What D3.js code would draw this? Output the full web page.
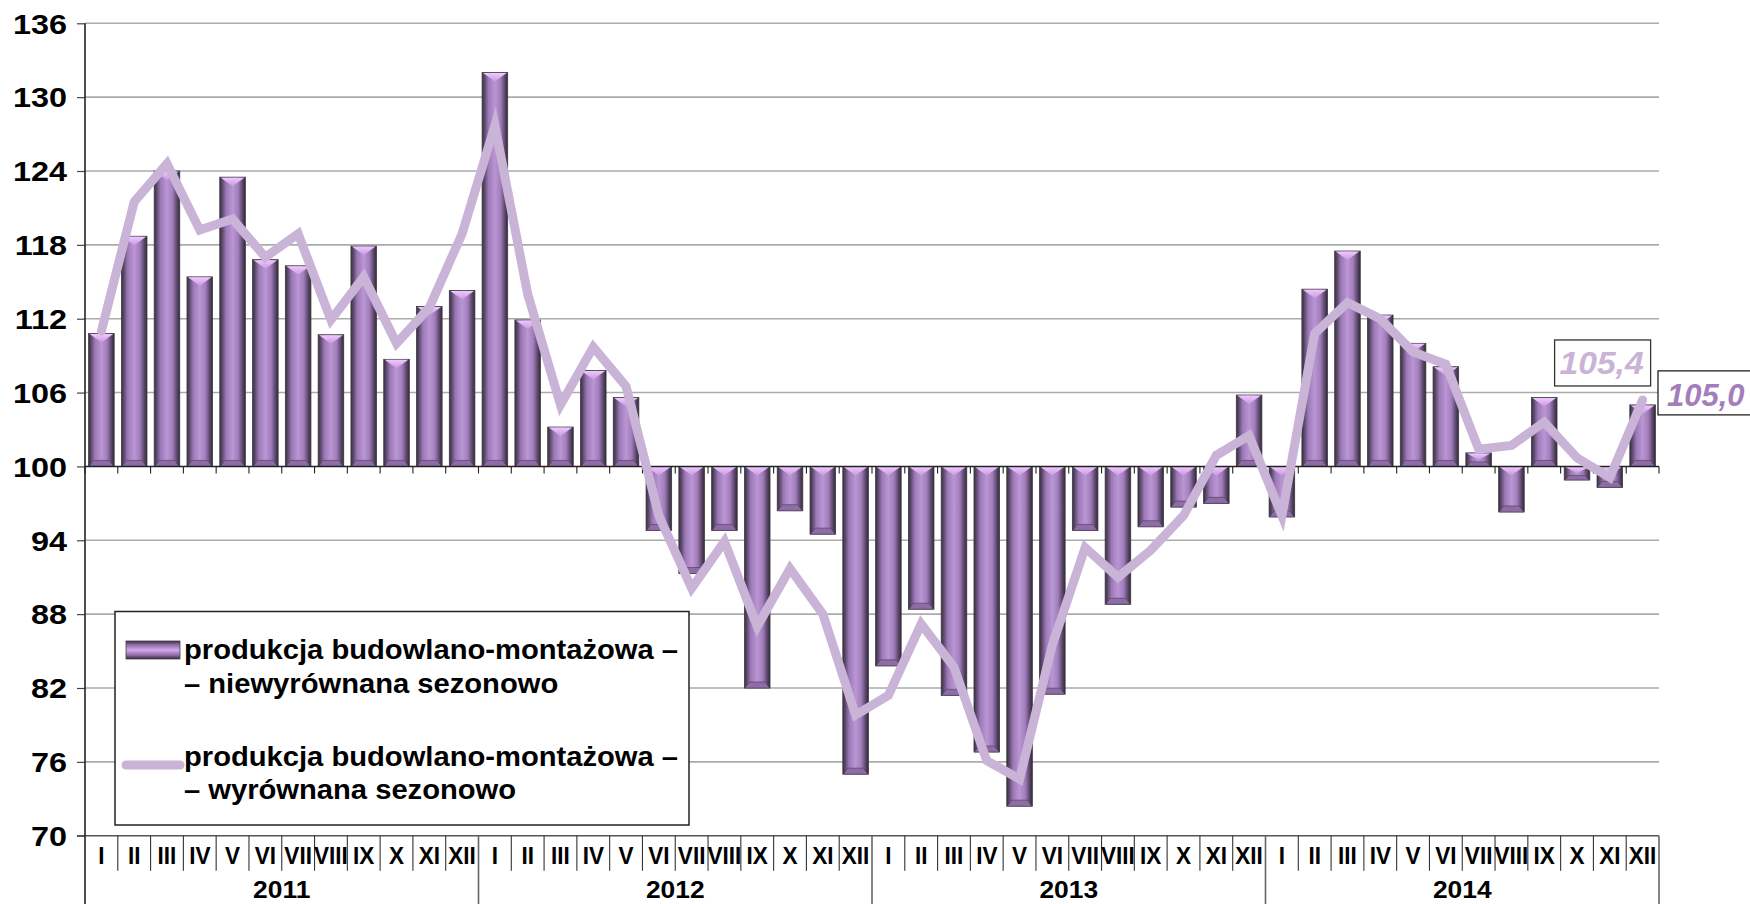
<!DOCTYPE html>
<html><head><meta charset="utf-8">
<script src="https://cdn.jsdelivr.net/npm/d3@7"></script>
<style>
body{margin:0;background:#fff}
svg{display:block}
text{font-family:"Liberation Sans",Arial,sans-serif;font-weight:bold}
</style>
</head><body>
<svg id="chart" width="1750" height="904"></svg>
<script>
// ---------------- DATA ----------------
const years = ["2011", "2012", "2013", "2014"];
const months = ["I","II","III","IV","V","VI","VII","VIII","IX","X","XI","XII"];
const yTicks = [70, 76, 82, 88, 94, 100, 106, 112, 118, 124, 130, 136];

// produkcja budowlano-montażowa – niewyrównana sezonowo (bars)
const unadjusted2011 = [110.8, 118.7, 124.0, 115.4, 123.5, 116.8, 116.3, 110.7, 117.9, 108.7, 113.0, 114.3];
const unadjusted2012 = [132.0, 111.9, 103.2, 107.8, 105.6, 94.8, 91.3, 94.8, 82.0, 96.4, 94.5, 75.0];
const unadjusted2013 = [83.8, 88.4, 81.4, 76.8, 72.4, 81.5, 94.8, 88.8, 95.1, 96.7, 97.0, 105.8];
const unadjusted2014 = [95.9, 114.4, 117.5, 112.3, 110.0, 108.1, 101.1, 96.3, 105.6, 98.9, 98.3, 105.0];

// produkcja budowlano-montażowa – wyrównana sezonowo (line)
const adjusted2011 = [111.0, 121.5, 124.6, 119.2, 120.1, 117.0, 118.9, 111.9, 115.4, 110.0, 112.9, 118.9];
const adjusted2012 = [127.7, 114.0, 105.0, 109.7, 106.5, 96.0, 90.1, 93.9, 87.0, 91.7, 88.0, 79.8];
const adjusted2013 = [81.4, 87.2, 83.7, 76.1, 74.6, 85.5, 93.4, 91.0, 93.2, 96.0, 100.9, 102.5];
const adjusted2014 = [96.0, 110.8, 113.3, 112.0, 109.3, 108.3, 101.4, 101.7, 103.6, 100.7, 99.1, 105.4];

const legendLabels = [
  ["produkcja budowlano-montażowa –", "– niewyrównana sezonowo"],
  ["produkcja budowlano-montażowa –", "– wyrównana sezonowo"]
];

// ---------------- BUILD ----------------
const unadjusted = [].concat(unadjusted2011, unadjusted2012, unadjusted2013, unadjusted2014);
const adjusted = [].concat(adjusted2011, adjusted2012, adjusted2013, adjusted2014);
const idx = d3.range(unadjusted.length);
const baseValue = 100;

const svg = d3.select("#chart");
const pLeft = 85, pRight = 1659, pTop = 23.3, pBottom = 835.7;

const x = d3.scaleBand().domain(idx).range([pLeft, pRight]).paddingInner(0.22).paddingOuter(0.11);
const y = d3.scaleLinear().domain([70, 136]).range([pBottom, pTop]);
const step = x.step(), bw = x.bandwidth();

const lineColor = "#c9b3d7";
const fmt = v => d3.format(".1f")(v).replace(".", ",");

// defs
const defs = svg.append("defs");
const g1 = defs.append("linearGradient").attr("id", "barG").attr("x1", 0).attr("x2", 1).attr("y1", 0).attr("y2", 0);
[[0, "#3a2d43"], [0.1, "#5e4a6e"], [0.25, "#9c7ab7"], [0.5, "#bb95d4"], [0.72, "#a17ebb"], [0.88, "#5f4a6f"], [1, "#33283b"]]
  .forEach(s => g1.append("stop").attr("offset", s[0]).attr("stop-color", s[1]));
const g2 = defs.append("linearGradient").attr("id", "bevG").attr("x1", 0).attr("x2", 0).attr("y1", 0).attr("y2", 1);
[[0, "#f0c8ff"], [1, "#c99ade"]].forEach(s => g2.append("stop").attr("offset", s[0]).attr("stop-color", s[1]));
const g3 = defs.append("linearGradient").attr("id", "legG").attr("x1", 0).attr("x2", 0).attr("y1", 0).attr("y2", 1);
[[0, "#3a2d43"], [0.2, "#8a6aa2"], [0.5, "#d3a8ea"], [0.8, "#8a6aa2"], [1, "#33283b"]]
  .forEach(s => g3.append("stop").attr("offset", s[0]).attr("stop-color", s[1]));

// gridlines
svg.append("g").selectAll("line").data(yTicks.filter(t => t !== 70 && t !== baseValue)).join("line")
  .attr("x1", pLeft).attr("x2", pRight).attr("y1", d => y(d)).attr("y2", d => y(d))
  .attr("stroke", "#ababab").attr("stroke-width", 1.6);

// y axis (ticks + labels)
const yAxis = svg.append("g").attr("transform", `translate(${pLeft},0)`)
  .call(d3.axisLeft(y).tickValues(yTicks).tickSize(8).tickPadding(0).tickFormat(d3.format("d")));
yAxis.select(".domain").remove();
yAxis.selectAll(".tick line").attr("stroke", "#444").attr("stroke-width", 1.2);
yAxis.selectAll(".tick text").attr("fill", "#000").attr("font-size", 27)
  .attr("x", 0).attr("dy", null).attr("text-anchor", "end")
  .attr("transform", "translate(-18,9.8) scale(1.2,1)");

// bars
const bars = svg.append("g").selectAll("g").data(idx).join("g");
bars.each(function (i) {
  const g = d3.select(this);
  const v = unadjusted[i];
  const x0 = x(i), x1 = x(i) + bw, xc = x(i) + bw / 2;
  const yt = y(Math.max(v, baseValue)), yb = y(Math.min(v, baseValue));
  const h = yb - yt;
  g.append("rect").attr("x", x0).attr("y", yt).attr("width", bw).attr("height", h)
    .attr("fill", "url(#barG)").attr("stroke", "#3b3b3b").attr("stroke-width", 0.8);
  const bev = Math.min(9, h / 2);
  g.append("polygon")
    .attr("points", `${x0 + 1},${yt + 0.5} ${x1 - 1},${yt + 0.5} ${xc},${yt + bev}`)
    .attr("fill", "url(#bevG)");
  const bb = Math.min(6, h / 3);
  g.append("polygon")
    .attr("points", `${x0 + 0.5},${yb} ${x1 - 0.5},${yb} ${x1 - 5},${yb - bb} ${x0 + 5},${yb - bb}`)
    .attr("fill", "#8e6ca5").attr("stroke", "#4a3a55").attr("stroke-width", 0.6);
});

// baseline axis at 100 with ticks at month boundaries
svg.append("line").attr("x1", pLeft).attr("x2", pRight).attr("y1", y(baseValue)).attr("y2", y(baseValue))
  .attr("stroke", "#222").attr("stroke-width", 1.6);
svg.append("g").selectAll("line").data(d3.range(unadjusted.length + 1)).join("line")
  .attr("x1", d => pLeft + d * step).attr("x2", d => pLeft + d * step)
  .attr("y1", y(baseValue)).attr("y2", y(baseValue) + 7)
  .attr("stroke", "#222").attr("stroke-width", 1.1);

// bottom axis (category table)
svg.append("line").attr("x1", pLeft - 8).attr("x2", pRight).attr("y1", y(70)).attr("y2", y(70))
  .attr("stroke", "#555").attr("stroke-width", 1.5);
svg.append("g").selectAll("line").data(d3.range(1, unadjusted.length + 1)).join("line")
  .attr("x1", d => pLeft + d * step).attr("x2", d => pLeft + d * step)
  .attr("y1", y(70)).attr("y2", d => d % 12 === 0 ? 904 : y(70) + 35)
  .attr("stroke", d => d % 12 === 0 ? "#666" : "#333").attr("stroke-width", d => d % 12 === 0 ? 1.6 : 1.1);
// y axis line
svg.append("line").attr("x1", pLeft).attr("x2", pLeft).attr("y1", pTop).attr("y2", 904)
  .attr("stroke", "#222").attr("stroke-width", 1.6);

// month labels
svg.append("g").selectAll("text").data(idx).join("text")
  .attr("text-anchor", "middle").attr("font-size", 23).attr("fill", "#000")
  .attr("transform", i => `translate(${x(i) + bw / 2},863.5) scale(0.98,1)`)
  .text(i => months[i % 12]);
// year labels
svg.append("g").selectAll("text").data(years).join("text")
  .attr("text-anchor", "middle").attr("font-size", 24).attr("fill", "#000")
  .attr("transform", (d, k) => `translate(${pLeft + (k * 12 + 6) * step},898) scale(1.1,1)`)
  .text(d => d);

// line series
const line = d3.line().x((d, i) => x(i) + bw / 2).y(d => y(d));
svg.append("path").datum(adjusted).attr("d", line)
  .attr("fill", "none").attr("stroke", lineColor).attr("stroke-width", 9)
  .attr("stroke-linejoin", "miter").attr("stroke-miterlimit", 6).attr("stroke-linecap", "round");

// data labels on last points
const last = adjusted.length - 1;
const lx = x(last) + bw / 2;
// line label
svg.append("rect").attr("x", lx - 88).attr("y", y(adjusted[last]) - 60).attr("width", 96).attr("height", 46)
  .attr("fill", "#fff").attr("stroke", "#333").attr("stroke-width", 1.3);
svg.append("text").attr("text-anchor", "end").attr("font-size", 32).attr("font-style", "italic")
  .attr("fill", lineColor)
  .attr("transform", `translate(${lx + 1},${y(adjusted[last]) - 26}) scale(1.05,1)`)
  .text(fmt(adjusted[last]));
// bar label
svg.append("rect").attr("x", pRight - 1).attr("y", y(unadjusted[last]) - 34).attr("width", 110).attr("height", 44)
  .attr("fill", "#fff").attr("stroke", "#222").attr("stroke-width", 1.3);
svg.append("text").attr("text-anchor", "start").attr("font-size", 31).attr("font-style", "italic")
  .attr("fill", "#a37ebd")
  .attr("transform", `translate(${pRight + 8},${y(unadjusted[last]) + 1})`)
  .text(fmt(unadjusted[last]));

// legend
const lg = svg.append("g");
lg.append("rect").attr("x", 115).attr("y", 611.5).attr("width", 574).attr("height", 213.5)
  .attr("fill", "#fff").attr("stroke", "#222").attr("stroke-width", 1.5);
lg.append("rect").attr("x", 126).attr("y", 641).attr("width", 54).attr("height", 18)
  .attr("fill", "url(#legG)").attr("stroke", "#444").attr("stroke-width", 0.8);
lg.append("line").attr("x1", 126).attr("x2", 180).attr("y1", 765).attr("y2", 765)
  .attr("stroke", lineColor).attr("stroke-width", 9).attr("stroke-linecap", "round");
const legBase = [[659, 693], [766, 799]];
legendLabels.forEach((pair, k) => {
  pair.forEach((t, j) => {
    lg.append("text").attr("font-size", 27).attr("fill", "#000")
      .attr("transform", `translate(184,${legBase[k][j]}) scale(1.08,1)`)
      .text(t);
  });
});
</script>
</body></html>
